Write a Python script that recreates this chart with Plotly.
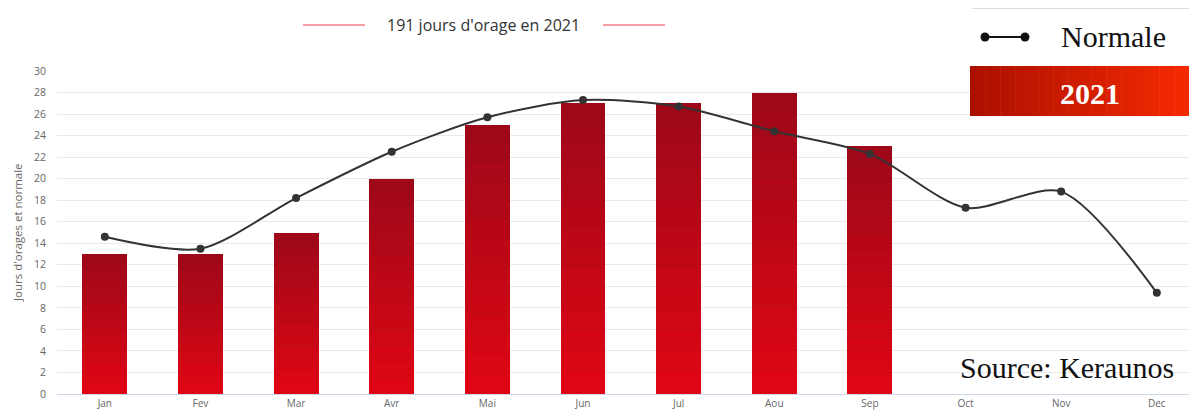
import plotly.graph_objects as go

months = ["Jan", "Fev", "Mar", "Avr", "Mai", "Jun", "Jul", "Aou", "Sep", "Oct", "Nov", "Dec"]
jours_2021 = [13, 13, 15, 20, 25, 27, 27, 28, 23, None, None, None]
normale = [14.6, 13.5, 18.2, 22.5, 25.7, 27.3, 26.7, 24.4, 22.3, 17.3, 18.8, 9.4]
y_ticks = list(range(0, 31, 2))

title_text = "191 jours d'orage en 2021"
y_title = "Jours d'orages et normale"

# page has an 8px body margin: the figure starts at (8, 8) in the window
OFF = 8
W, H = 1197 - OFF, 410 - OFF
ml, mr, mt, mb = 57 - OFF, 0, 71 - OFF, 16
pw, ph = W - ml - mr, H - mt - mb


def fx(x):
    return (x - OFF - ml) / pw


def fy(y):
    return (H - mb - (y - OFF)) / ph


fig = go.Figure()

# bars with vertical gradient: each bar split into equal stacked slices
N = 14
top = (158, 8, 24)
bot = (222, 6, 20)
x_idx = list(range(len(months)))
for k in range(N):
    t = k / (N - 1)
    c = tuple(round(bot[i] + (top[i] - bot[i]) * t) for i in range(3))
    fig.add_trace(go.Bar(
        x=x_idx,
        y=[(v / N) if v is not None else None for v in jours_2021],
        marker=dict(color="rgb(%d,%d,%d)" % c, line=dict(width=0)),
        width=0.47,
        showlegend=False,
        hoverinfo="skip",
        name="2021",
    ))

fig.add_trace(go.Scatter(
    x=x_idx, y=normale, mode="lines+markers", name="Normale",
    line=dict(color="#333333", width=2, shape="spline", smoothing=0.8),
    marker=dict(color="#333333", size=8),
    showlegend=False,
))

shapes = []
for x0, x1 in [(303, 365), (603, 665)]:
    shapes.append(dict(type="line", xref="paper", yref="paper", x0=fx(x0), x1=fx(x1), y0=fy(25), y1=fy(25),
                       line=dict(color="#f07f87", width=1.5)))

# legend box top line
shapes.append(dict(type="line", xref="paper", yref="paper", x0=fx(972), x1=fx(1197), y0=fy(8.5), y1=fy(8.5),
                   line=dict(color="#dddddd", width=1)))
# Normale legend symbol
shapes.append(dict(type="line", xref="paper", yref="paper", x0=fx(985), x1=fx(1025), y0=fy(37), y1=fy(37),
                   line=dict(color="#111111", width=2)))
for cx in (985, 1025):
    shapes.append(dict(type="circle", xref="paper", yref="paper", x0=fx(cx - 4.5), x1=fx(cx + 4.5),
                       y0=fy(37 + 4.5), y1=fy(37 - 4.5), fillcolor="#111111", line=dict(width=0)))
# 2021 red gradient box (strips approximating the gradient)
S = 30
c0 = (172, 16, 0)
c1 = (246, 42, 0)
bx0, bx1, by0, by1 = 970, 1197, 66, 116
for i in range(S):
    t = i / (S - 1)
    c = tuple(round(c0[j] + (c1[j] - c0[j]) * t) for j in range(3))
    xa = bx0 + (bx1 - bx0) * i / S
    xb = bx0 + (bx1 - bx0) * (i + 1) / S + 0.5
    shapes.append(dict(type="rect", xref="paper", yref="paper", x0=fx(xa), x1=fx(xb), y0=fy(by1), y1=fy(by0),
                       fillcolor="rgb(%d,%d,%d)" % c, line=dict(width=0), layer="above"))

annotations = [
    dict(text=title_text, xref="paper", yref="paper", x=fx(483), y=fy(25), showarrow=False,
         font=dict(family="Open Sans", size=16, color="#333333"), xanchor="center", yanchor="middle"),
    dict(text="Normale", xref="paper", yref="paper", x=fx(1059), y=fy(37), showarrow=False,
         font=dict(family="Liberation Serif", size=30, color="#111111"), xanchor="left", yanchor="middle"),
    dict(text="<b>2021</b>", xref="paper", yref="paper", x=fx(1090), y=fy(93), showarrow=False,
         font=dict(family="Liberation Serif", size=30, color="#ffffff"), xanchor="center", yanchor="middle"),
    dict(text="Source: Keraunos", xref="paper", yref="paper", x=fx(1176), y=fy(367), showarrow=False,
         font=dict(family="Liberation Serif", size=30, color="#111111"), xanchor="right", yanchor="middle"),
    dict(text=y_title, xref="paper", yref="paper", x=fx(17), y=fy(233), showarrow=False, textangle=-90,
         font=dict(family="Open Sans", size=11.5, color="#666666"), xanchor="center", yanchor="middle"),
]

fig.update_layout(
    width=W, height=H,
    margin=dict(l=ml, r=mr, t=mt, b=mb, pad=0),
    paper_bgcolor="white", plot_bgcolor="white",
    barmode="stack", bargap=0,
    shapes=shapes, annotations=annotations,
    xaxis=dict(range=[-0.5, 11.42], tickmode="array", tickvals=x_idx, ticktext=months,
               showgrid=False, showline=True, linecolor="#ccd6eb", linewidth=1, ticks="",
               tickfont=dict(family="Open Sans", size=10, color="#666666"), zeroline=False, fixedrange=True),
    yaxis=dict(range=[0, 30], tickmode="array", tickvals=y_ticks, showgrid=True, gridcolor="#e9e9e9",
               gridwidth=1, zeroline=False, showline=False, ticks="", ticklabelstandoff=10,
               tickfont=dict(family="Open Sans", size=10.5, color="#666666")),
)

fig.write_html("out.html")
